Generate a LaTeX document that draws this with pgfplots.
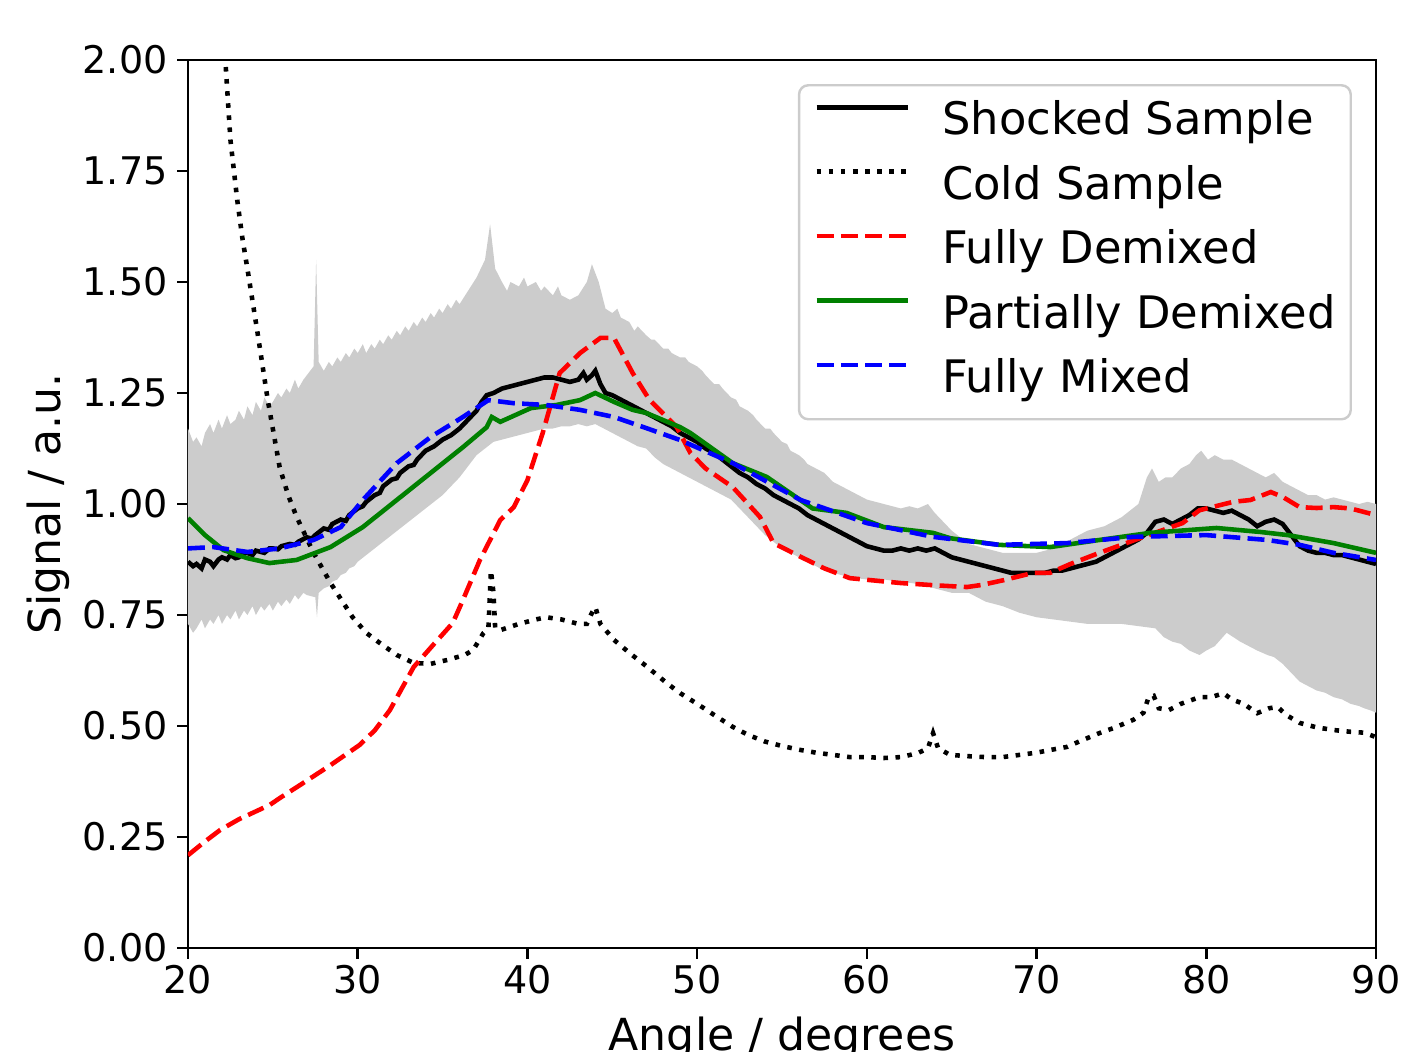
\documentclass[border=0pt]{standalone}
\usepackage{fontspec}
\setmainfont{DejaVu Sans}
\usepackage{pgfplots}
\pgfplotsset{compat=1.18}
\usepgfplotslibrary{fillbetween}
\usetikzlibrary{calc}

\definecolor{bandgray}{RGB}{204,204,204}
\definecolor{mplgreen}{RGB}{0,128,0}

\begin{document}
\begin{tikzpicture}
\begin{axis}[
    scale only axis,
    width=389.9pt, height=291.45pt,
    xmin=20, xmax=90, ymin=0, ymax=2,
    xtick={20,30,40,50,60,70,80,90},
    ytick={0,0.25,0.5,0.75,1,1.25,1.5,1.75,2},
    yticklabel style={/pgf/number format/fixed, /pgf/number format/fixed zerofill, /pgf/number format/precision=2},
    /pgf/number format/assume math mode=true,
    tick align=outside,
    tick pos=left,
    major tick length=3.5pt,
    axis line style={line width=0.8pt},
    every tick/.style={black, line width=0.8pt},
    tick label style={font=\fontsize{12.5}{15}\selectfont, inner sep=0pt},
    yticklabel style={xshift=-3pt},
    xticklabel style={yshift=-2pt},
    label style={font=\fontsize{14.5}{17}\selectfont},
    xlabel={Angle / degrees},
    ylabel={Signal / a.u.},
    xlabel style={at={(axis description cs:0.5,-0.115)}, anchor=base},
    ylabel style={at={(axis description cs:-0.118,0.5)}, anchor=center},
    legend style={at={(axis description cs:1,1)}, anchor=north east,
        xshift=-7.9pt, yshift=-7.9pt,
        font=\fontsize{14.7}{17}\selectfont,
        draw=bandgray, line width=0.8pt, rounded corners=3pt,
        fill=white, fill opacity=0.8, text opacity=1,
        inner xsep=5pt, inner ysep=5.3pt,
        nodes={inner sep=0pt, text height=11pt, text depth=3.4pt},
        row sep=6.75pt,
        /tikz/every odd column/.append style={column sep=10.5pt}},
    legend cell align=left,
    legend image code/.code={\draw[#1] (0pt,5.3pt) -- (30pt,5.3pt);},
]

% spread of the shocked shots
\addplot[draw=none, name path=up, forget plot] coordinates {
(20,1.17) (20.3,1.14) (20.5,1.15) (20.8,1.13) (21,1.16) (21.3,1.18) (21.5,1.16) (21.8,1.19)
(22,1.17) (22.3,1.20) (22.5,1.18) (22.8,1.19) (23,1.21) (23.3,1.19) (23.5,1.22) (23.8,1.20)
(24,1.23) (24.3,1.21) (24.5,1.24) (24.8,1.22) (25,1.23) (25.3,1.25) (25.5,1.24) (25.8,1.26)
(26,1.25) (26.3,1.28) (26.5,1.26) (26.8,1.28) (27,1.29) (27.4,1.31) (27.55,1.55) (27.7,1.32)
(28,1.30) (28.3,1.32) (28.5,1.31) (28.8,1.33) (29,1.32) (29.3,1.34) (29.5,1.33) (29.8,1.35)
(30,1.34) (30.3,1.36) (30.5,1.34) (30.8,1.36) (31,1.35) (31.3,1.37) (31.5,1.36) (31.8,1.38)
(32,1.37) (32.3,1.39) (32.5,1.38) (32.8,1.40) (33,1.39) (33.3,1.41) (33.5,1.40) (33.8,1.42)
(34,1.41) (34.3,1.43) (34.5,1.42) (34.8,1.44) (35,1.43) (35.3,1.45) (35.5,1.44) (35.8,1.46)
(36,1.45) (36.5,1.48) (37,1.51) (37.5,1.55) (37.8,1.63) (38.1,1.53) (38.5,1.50) (38.8,1.48)
(39,1.50) (39.5,1.49) (39.8,1.51) (40,1.49) (40.5,1.50) (40.8,1.48) (41,1.49) (41.5,1.47)
(41.8,1.49) (42,1.47) (42.5,1.46) (43,1.47) (43.5,1.50) (43.8,1.54) (44.2,1.50) (44.6,1.44)
(45,1.43) (45.3,1.44) (45.5,1.42) (46,1.41) (46.3,1.39) (46.5,1.40) (47,1.38) (47.3,1.37)
(47.5,1.37) (48,1.35) (48.3,1.35) (48.5,1.34) (49,1.33) (49.3,1.33) (49.5,1.32) (50,1.31)
(50.3,1.30) (50.5,1.29) (51,1.27) (51.3,1.27) (51.5,1.26) (52,1.24) (52.3,1.235) (52.5,1.22)
(53,1.21) (53.3,1.20) (53.5,1.19) (54,1.17) (54.3,1.17) (54.5,1.16) (55,1.14) (55.3,1.135)
(55.5,1.12) (56,1.11) (56.3,1.10) (56.5,1.09) (57,1.08) (57.5,1.07) (58,1.05) (58.5,1.04)
(59,1.03) (59.5,1.02) (60,1.01) (60.5,1.005) (61,1.00) (61.5,0.995) (62,0.99) (62.5,0.995)
(63,0.99) (63.6,1.00) (64,0.98) (64.5,0.96) (65,0.94) (65.5,0.925) (66,0.91) (67,0.90)
(68,0.89) (69,0.89) (70,0.89) (71,0.90) (72,0.92) (73,0.94) (74,0.95) (75,0.97) (76,1.00)
(76.5,1.06) (76.8,1.08) (77.2,1.05) (77.6,1.06) (78,1.06) (78.5,1.08) (79,1.09) (79.4,1.11)
(79.7,1.12) (80.1,1.10) (80.5,1.11) (81,1.10) (81.5,1.10) (82,1.09) (82.5,1.08) (83,1.07)
(83.5,1.06) (84,1.07) (84.5,1.05) (85,1.04) (85.5,1.03) (86,1.02) (86.5,1.02) (87,1.01)
(87.5,1.015) (88,1.01) (88.5,1.005) (89,1.00) (89.5,1.005) (90,1.00)
};
\addplot[draw=none, name path=lo, forget plot] coordinates {
(20,0.73) (20.3,0.71) (20.5,0.72) (20.8,0.74) (21,0.72) (21.3,0.74) (21.5,0.73) (21.8,0.75)
(22,0.73) (22.3,0.75) (22.5,0.74) (22.8,0.76) (23,0.74) (23.3,0.76) (23.5,0.75) (23.8,0.77)
(24,0.75) (24.3,0.77) (24.5,0.76) (24.8,0.775) (25,0.76) (25.3,0.78) (25.5,0.77) (25.8,0.785)
(26,0.775) (26.3,0.795) (26.5,0.785) (26.8,0.80) (27,0.795) (27.5,0.79) (27.6,0.745)
(27.7,0.80) (28,0.81) (28.3,0.815) (28.5,0.825) (28.8,0.83) (29,0.84) (29.3,0.845)
(29.5,0.855) (29.8,0.86) (30,0.87) (30.5,0.885) (31,0.90) (31.5,0.915) (32,0.93) (32.5,0.945)
(33,0.96) (33.5,0.975) (34,0.99) (34.5,1.005) (35,1.02) (35.5,1.04) (36,1.06) (36.5,1.085)
(37,1.11) (37.5,1.125) (38,1.14) (38.5,1.145) (39,1.15) (39.5,1.155) (40,1.16) (40.5,1.165)
(41,1.17) (41.5,1.17) (42,1.175) (42.5,1.175) (43,1.18) (43.5,1.175) (44,1.18) (44.5,1.17)
(45,1.16) (45.5,1.15) (46,1.14) (46.5,1.13) (47,1.125) (47.5,1.105) (48,1.09) (48.5,1.08)
(49,1.07) (49.5,1.06) (50,1.05) (50.5,1.04) (51,1.03) (51.5,1.02) (52,1.01) (52.5,0.99)
(53,0.97) (53.5,0.95) (54,0.93) (54.5,0.915) (55,0.90) (55.5,0.89) (56,0.88) (56.5,0.87)
(57,0.86) (57.5,0.85) (58,0.845) (59,0.835) (60,0.83) (61,0.83) (62,0.825) (63,0.82)
(64,0.81) (65,0.80) (66,0.80) (67,0.78) (68,0.77) (69,0.755) (70,0.745) (71,0.74) (72,0.735)
(73,0.73) (74,0.73) (75,0.73) (76,0.725) (77,0.72) (77.5,0.70) (78,0.69) (78.5,0.685)
(79,0.67) (79.6,0.66) (80,0.67) (80.5,0.68) (81.2,0.71) (81.6,0.70) (82,0.69) (82.5,0.68)
(83,0.67) (83.6,0.66) (84,0.655) (84.5,0.64) (85,0.62) (85.5,0.60) (86,0.59) (86.5,0.58)
(87,0.575) (87.5,0.565) (88,0.56) (88.5,0.55) (89,0.545) (89.3,0.54) (89.7,0.535) (90,0.53)
};
\addplot[bandgray, forget plot] fill between[of=up and lo];

% Shocked Sample
\addplot[black, line width=1.5pt] coordinates {
(20,0.87) (20.3,0.86) (20.5,0.865) (20.8,0.855) (21,0.875) (21.3,0.87) (21.5,0.86)
(21.8,0.875) (22,0.88) (22.3,0.875) (22.5,0.885) (22.8,0.878) (23,0.88) (23.3,0.89)
(23.5,0.89) (23.8,0.885) (24,0.895) (24.5,0.89) (24.8,0.9) (25,0.90) (25.3,0.898)
(25.5,0.905) (26,0.91) (26.3,0.908) (26.5,0.915) (27,0.925) (27.3,0.922) (27.5,0.93)
(28,0.945) (28.3,0.942) (28.5,0.955) (29,0.965) (29.3,0.962) (29.5,0.975) (30,0.99)
(30.3,0.995) (30.5,1.005) (31,1.02) (31.3,1.025) (31.5,1.04) (32,1.055) (32.3,1.058)
(32.5,1.07) (33,1.085) (33.3,1.088) (33.5,1.10) (34,1.12) (34.5,1.13) (35,1.145) (35.5,1.155)
(36,1.17) (36.5,1.19) (37,1.21) (37.3,1.23) (37.6,1.245) (38,1.25) (38.5,1.26) (39,1.265)
(39.5,1.27) (40,1.275) (40.5,1.28) (41,1.285) (41.5,1.285) (42,1.28) (42.5,1.275) (43,1.28)
(43.3,1.295) (43.5,1.28) (43.8,1.29) (44,1.30) (44.3,1.27) (44.6,1.25) (45,1.245) (45.5,1.235)
(46,1.225) (46.5,1.215) (47,1.205) (47.5,1.195) (48,1.185) (48.5,1.175) (49,1.16) (49.5,1.15)
(50,1.14) (50.5,1.125) (51,1.115) (51.5,1.10) (52,1.085) (52.5,1.07) (53,1.06) (53.5,1.045)
(54,1.035) (54.5,1.02) (55,1.01) (55.5,1.00) (56,0.99) (56.5,0.975) (57,0.965) (57.5,0.955)
(58,0.945) (58.5,0.935) (59,0.925) (59.5,0.915) (60,0.905) (60.5,0.90) (61,0.895) (61.5,0.895)
(62,0.90) (62.5,0.895) (63,0.90) (63.5,0.895) (64,0.90) (64.5,0.89) (65,0.88) (65.5,0.875)
(66,0.87) (66.5,0.865) (67,0.86) (67.5,0.855) (68,0.85) (68.5,0.845) (69,0.845) (69.5,0.845)
(70,0.845) (70.5,0.845) (71,0.85) (71.5,0.85) (72,0.855) (72.5,0.86) (73,0.865) (73.5,0.87)
(74,0.88) (74.5,0.89) (75,0.90) (75.5,0.91) (76,0.92) (76.5,0.935) (77,0.96) (77.5,0.965)
(78,0.955) (78.5,0.965) (79,0.975) (79.5,0.99) (80,0.99) (80.5,0.985) (81,0.98) (81.5,0.985)
(82,0.975) (82.5,0.965) (83,0.95) (83.5,0.96) (84,0.965) (84.5,0.955) (85,0.93) (85.5,0.905)
(86,0.895) (86.5,0.89) (87,0.89) (87.5,0.885) (88,0.885) (88.5,0.88) (89,0.875) (89.5,0.87)
(90,0.865)
};
\addlegendentry{Shocked Sample}

% Cold Sample
\addplot[black, line width=1.5pt, line cap=butt, dash pattern=on 1.5pt off 2.475pt] coordinates {
(21.9,2.12) (22.2,2.0) (22.5,1.82) (22.9,1.685) (23.2,1.60) (23.5,1.53) (24.1,1.385)
(24.7,1.234) (25.4,1.083) (25.9,1.02) (26.4,0.971) (27.4,0.89) (28.4,0.822) (29.7,0.745)
(30.5,0.71) (31.3,0.687) (32.3,0.66) (33.3,0.642) (34.3,0.64) (35.3,0.649) (36.3,0.66)
(36.8,0.671) (37.4,0.709) (37.7,0.72) (37.85,0.85) (38.0,0.80) (38.1,0.72) (38.4,0.716)
(39.5,0.73) (40.5,0.74) (41.1,0.745) (42,0.74) (43,0.73) (43.5,0.73) (43.8,0.755) (44.0,0.768)
(44.3,0.73) (45.1,0.694) (46,0.665) (47,0.635) (48.2,0.597) (49,0.574) (50,0.55) (51,0.525)
(52.1,0.498) (53,0.48) (54,0.465) (55,0.455) (56.1,0.446) (57,0.44) (58,0.435) (59,0.43)
(60,0.43) (61,0.428) (62,0.43) (63,0.439) (63.6,0.45) (63.9,0.484) (64.2,0.45) (64.9,0.435)
(66,0.432) (67,0.43) (68,0.43) (69,0.435) (70,0.44) (70.8,0.446) (71.8,0.453) (72.5,0.465)
(73.7,0.484) (74.5,0.495) (75.7,0.514) (76.3,0.53) (76.6,0.565) (76.9,0.568) (77.2,0.54)
(77.8,0.536) (78.5,0.55) (79.6,0.565) (80.3,0.565) (81,0.574) (81.5,0.56) (82.2,0.55)
(83,0.529) (83.7,0.54) (84.2,0.543) (84.7,0.525) (85.5,0.507) (86.5,0.497) (87.5,0.491)
(88.5,0.487) (89.3,0.485) (90,0.475)
};
\addlegendentry{Cold Sample}

% Fully Demixed
\addplot[red, line width=1.5pt, line cap=butt, dash pattern=on 5.55pt off 2.4pt] coordinates {
(20,0.209) (21,0.24) (21.9,0.266) (23,0.29) (24.8,0.322) (25.5,0.34) (26.6,0.367) (28.4,0.412)
(30.1,0.457) (31,0.49) (31.9,0.536) (32.1,0.55) (33.3,0.633) (34.5,0.685) (35.6,0.732)
(36.2,0.784) (37.2,0.874) (38.4,0.964) (39.2,0.993) (40,1.054) (40.9,1.16) (41.9,1.295)
(43.1,1.34) (44.3,1.374) (45.1,1.374) (46.2,1.295) (47.2,1.234) (48.8,1.173) (49.6,1.115)
(50.5,1.08) (52.1,1.038) (53.7,0.971) (54.5,0.912) (56.1,0.881) (57.5,0.855) (59,0.833)
(62,0.822) (64,0.817) (65.9,0.813) (66.8,0.818) (68,0.828) (69.8,0.845) (70.8,0.845)
(72,0.865) (73.7,0.89) (76.3,0.926) (78.6,0.957) (79.6,0.986) (81.6,1.005) (82.6,1.009)
(83.8,1.027) (84.5,1.016) (85.5,0.993) (86.5,0.991) (87.5,0.993) (88.5,0.99) (90,0.975)
};
\addlegendentry{Fully Demixed}

% Partially Demixed
\addplot[mplgreen, line width=1.5pt] coordinates {
(20,0.968) (21,0.93) (22.1,0.896) (23.5,0.878) (24.8,0.867) (26.4,0.874) (28.4,0.903)
(30.3,0.948) (32.3,1.009) (34.3,1.07) (36.2,1.128) (37.6,1.173) (37.9,1.196) (38.4,1.185)
(40.2,1.216) (41.7,1.223) (43.1,1.234) (44,1.25) (45.1,1.23) (46.2,1.212) (47,1.205)
(49,1.173) (49.6,1.16) (52.1,1.092) (54.1,1.061) (56.8,0.99) (58.8,0.98) (61,0.948)
(63.9,0.935) (64.9,0.923) (67.8,0.908) (70.8,0.903) (73.7,0.919) (76.7,0.935) (80.6,0.946)
(83.2,0.937) (84.8,0.93) (87.5,0.912) (90,0.89)
};
\addlegendentry{Partially Demixed}

% Fully Mixed
\addplot[blue, line width=1.5pt, line cap=butt, dash pattern=on 5.55pt off 2.4pt] coordinates {
(20,0.90) (21.5,0.903) (23.5,0.892) (25.4,0.90) (27.4,0.919) (29,0.948) (30.3,1.009)
(32.3,1.092) (34.3,1.151) (36.2,1.196) (37.7,1.234) (39.2,1.227) (41.1,1.223) (43.1,1.212)
(45.1,1.196) (47,1.171) (49,1.144) (52.1,1.092) (56.1,1.009) (60,0.957) (63.9,0.926)
(67.8,0.908) (71.8,0.912) (75.7,0.926) (80,0.93) (83.6,0.919) (85.5,0.908) (87.5,0.89)
(90,0.874)
};
\addlegendentry{Fully Mixed}

\coordinate (sw) at (rel axis cs:0,0);
\coordinate (ne) at (rel axis cs:1,1);
\end{axis}
\pgfresetboundingbox
\path[use as bounding box] ($(sw)+(-61.7pt,-33.81pt)$) rectangle ($(ne)+(9.19pt,19.69pt)$);
\end{tikzpicture}
\end{document}
